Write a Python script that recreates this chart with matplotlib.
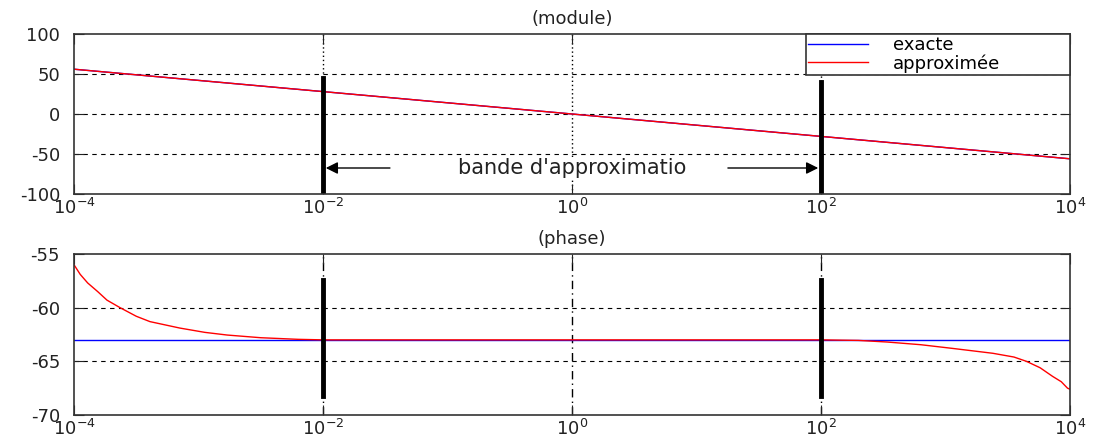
import numpy as np
import matplotlib.pyplot as plt

plt.rcParams["font.family"] = ["DejaVu Sans"]
plt.rcParams["axes.unicode_minus"] = False

# module (dB) : exacte et approximée
w_mod = [1e-4, 1e-3, 1e-2, 1e-1, 1e0, 1e1, 1e2, 1e3, 1e4]
mod_exacte = [56, 42, 28, 14, 0, -14, -28, -42, -56]
mod_approx = [56, 42, 28, 14, 0, -14, -28, -42, -56]

# phase (deg)
w_ph_exacte = [1e-4, 1e4]
ph_exacte = [-63, -63]
log_w_approx = [-4.0, -3.95, -3.89, -3.81, -3.735, -3.63, -3.5, -3.39, -3.15, -2.95,
                -2.77, -2.5, -2.2, -2.0, -1.0, 0.0, 1.0, 2.0, 2.3, 2.53, 2.8,
                3.06, 3.38, 3.55, 3.65, 3.76, 3.86, 3.93, 3.98, 4.0]
ph_approx = [-56.0, -56.9, -57.7, -58.5, -59.3, -60.0, -60.8, -61.3, -61.9, -62.3,
             -62.55, -62.8, -62.95, -63.0, -63.0, -63.0, -63.0, -63.0, -63.05, -63.2, -63.45,
             -63.8, -64.25, -64.6, -65.0, -65.6, -66.4, -66.9, -67.5, -67.6]

fig = plt.figure(figsize=(10.97, 4.41), dpi=100)
ax1 = fig.add_axes([74/1097, 1-194/441, 996/1097, 160/441])
ax2 = fig.add_axes([74/1097, 1-415/441, 996/1097, 161/441])

for ax in (ax1, ax2):
    ax.set_xscale("log")
    ax.set_xlim(1e-4, 1e4)
    ax.set_xticks([1e-4, 1e-2, 1e0, 1e2, 1e4])
    ax.minorticks_off()
    ax.tick_params(direction="in", length=7, top=True, right=True, labelsize=13,
                   colors="#222222")
    ax.tick_params(axis="x", pad=3)
    ax.tick_params(axis="y", pad=10)
    for s in ax.spines.values():
        s.set_color("#333333")
        s.set_linewidth(1.2)

# --- module
ax1.plot(w_mod, mod_exacte, color="blue", lw=1, label="exacte")
ax1.plot(w_mod, mod_approx, color="red", lw=1, label="approximée")
ax1.set_ylim(-100, 100)
ax1.set_yticks([-100, -50, 0, 50, 100])
for y in [-50, 0, 50]:
    ax1.axhline(y, color="black", ls=(0, (4, 4)), lw=0.8, zorder=0)
for x in [1e-2, 1e0, 1e2]:
    ax1.axvline(x, color="black", ls=(0, (1, 2)), lw=1, zorder=0)
ax1.plot([1e-2, 1e-2], [45, -100], color="black", lw=3.5)
ax1.plot([1e2, 1e2], [40, -100], color="black", lw=3.5)
ax1.annotate("", xy=(1e-2, -67.5), xytext=(10**-1.44, -67.5),
             arrowprops=dict(arrowstyle="-|>", color="black", lw=1, mutation_scale=18))
ax1.annotate("", xy=(1e2, -67.5), xytext=(10**1.23, -67.5),
             arrowprops=dict(arrowstyle="-|>", color="black", lw=1, mutation_scale=18))
ax1.text(1.0, -67.5, "bande d'approximatio", ha="center", va="center", fontsize=15,
         color="#222222", bbox=dict(facecolor="white", edgecolor="none", pad=1))
ax1.set_title("(module)", fontsize=13, pad=7, color="#222222")
leg = ax1.legend(loc="upper left", bbox_to_anchor=(0.735, 0, 0.265, 1.0), mode="expand",
                 fontsize=13, fancybox=False, framealpha=1,
                 edgecolor="#333333", borderaxespad=0, handlelength=3.3,
                 handletextpad=1.4, borderpad=0.12, labelspacing=0.0)
leg.get_frame().set_linewidth(1.2)

# --- phase
ax2.plot(w_ph_exacte, ph_exacte, color="blue", lw=1)
ax2.plot(10 ** np.array(log_w_approx), ph_approx, color="red", lw=1)
ax2.set_ylim(-70, -55)
ax2.set_yticks([-70, -65, -60, -55])
for y in [-65, -60]:
    ax2.axhline(y, color="black", ls=(0, (4, 4)), lw=0.8, zorder=0)
for x in [1e-2, 1e0, 1e2]:
    ax2.axvline(x, color="black", ls=(0, (6, 3, 1, 3)), lw=1, zorder=0)
ax2.plot([1e-2, 1e-2], [-57.4, -68.2], color="black", lw=3.5)
ax2.plot([1e2, 1e2], [-57.4, -68.2], color="black", lw=3.5)
ax2.set_title("(phase)", fontsize=13, pad=7, color="#222222")

fig.savefig("out.png", dpi=100)
